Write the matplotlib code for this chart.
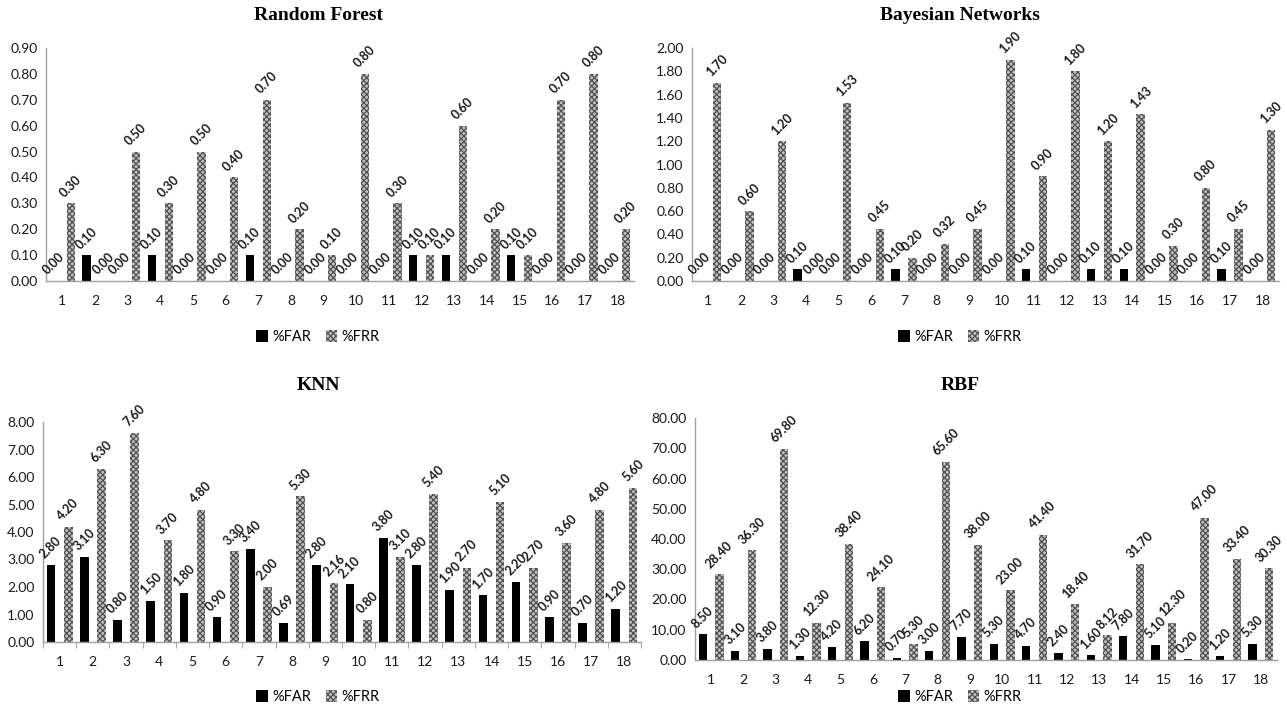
import matplotlib
matplotlib.use("Agg")
import matplotlib.pyplot as plt
import numpy as np

plt.rcParams['font.family'] = ['Lato', 'DejaVu Sans']
plt.rcParams['hatch.linewidth'] = 0.9

categories = [str(i) for i in range(1, 19)]

rf_far = [0.00, 0.10, 0.00, 0.10, 0.00, 0.00, 0.10, 0.00, 0.00, 0.00, 0.00, 0.10, 0.10, 0.00, 0.10, 0.00, 0.00, 0.00]
rf_frr = [0.30, 0.00, 0.50, 0.30, 0.50, 0.40, 0.70, 0.20, 0.10, 0.80, 0.30, 0.10, 0.60, 0.20, 0.10, 0.70, 0.80, 0.20]

bn_far = [0.00, 0.00, 0.00, 0.10, 0.00, 0.00, 0.10, 0.00, 0.00, 0.00, 0.10, 0.00, 0.10, 0.10, 0.00, 0.00, 0.10, 0.00]
bn_frr = [1.70, 0.60, 1.20, 0.00, 1.53, 0.45, 0.20, 0.32, 0.45, 1.90, 0.90, 1.80, 1.20, 1.43, 0.30, 0.80, 0.45, 1.30]

knn_far = [2.80, 3.10, 0.80, 1.50, 1.80, 0.90, 3.40, 0.69, 2.80, 2.10, 3.80, 2.80, 1.90, 1.70, 2.20, 0.90, 0.70, 1.20]
knn_frr = [4.20, 6.30, 7.60, 3.70, 4.80, 3.30, 2.00, 5.30, 2.16, 0.80, 3.10, 5.40, 2.70, 5.10, 2.70, 3.60, 4.80, 5.60]

rbf_far = [8.50, 3.10, 3.80, 1.30, 4.20, 6.20, 0.70, 3.00, 7.70, 5.30, 4.70, 2.40, 1.60, 7.80, 5.10, 0.20, 1.20, 5.30]
rbf_frr = [28.40, 36.30, 69.80, 12.30, 38.40, 24.10, 5.30, 65.60, 38.00, 23.00, 41.40, 18.40, 8.12, 31.70, 12.30, 47.00, 33.40, 30.30]

W, H = 1287, 710
fig = plt.figure(figsize=(W / 100, H / 100), dpi=100)


def px_axes(left, right, top, bottom):
    return fig.add_axes([left / W, (H - bottom) / H, (right - left) / W, (bottom - top) / H])


panels = [
    dict(title="Random Forest", far=rf_far, frr=rf_frr, ymax=0.9, step=0.1,
         box=(46, 634, 48, 281), title_y=15, legend_y=337, cx=318, ticks=False),
    dict(title="Bayesian Networks", far=bn_far, frr=bn_frr, ymax=2.0, step=0.2,
         box=(692, 1279, 48, 281), title_y=15, legend_y=337, cx=960, ticks=False),
    dict(title="KNN", far=knn_far, frr=knn_frr, ymax=8.0, step=1.0,
         box=(43, 641, 422, 642), title_y=385, legend_y=697, cx=318, ticks=True),
    dict(title="RBF", far=rbf_far, frr=rbf_frr, ymax=80.0, step=10.0,
         box=(695, 1277, 418, 660), title_y=385, legend_y=697, cx=960, ticks=False),
]

label_color = '#1a1a1a'
for p in panels:
    ax = px_axes(*p['box'])
    x = np.arange(len(categories))
    w = 0.26
    b1 = ax.bar(x - 0.26, p['far'], width=w, color='black', label='%FAR', zorder=2)
    b2 = ax.bar(x + 0.26, p['frr'], width=w, facecolor='#c4c4c4', edgecolor='#505050',
                hatch='xxxxxx', linewidth=0, label='%FRR', zorder=2)
    for bars, vals in ((b1, p['far']), (b2, p['frr'])):
        for rect, v in zip(bars, vals):
            ax.annotate(f"{v:.2f}", (rect.get_x() + rect.get_width() / 2, v),
                        xytext=(0, 3), textcoords='offset points',
                        ha='center', va='bottom', rotation=45, fontsize=9,
                        color=label_color, fontweight='bold')
    ax.set_xlim(-0.5, len(categories) - 0.5)
    ax.set_ylim(0, p['ymax'])
    yt = np.arange(0, p['ymax'] + p['step'] / 2, p['step'])
    ax.set_yticks(yt)
    ax.set_yticklabels([f"{v:.2f}" for v in yt], fontsize=10, color=label_color)
    ax.set_xticks(x)
    ax.set_xticklabels(categories, fontsize=10, color=label_color)
    ax.tick_params(axis='y', length=0, pad=6)
    ax.tick_params(axis='x', length=0, pad=10)
    if p['ticks']:
        ax.set_xticks(np.arange(-0.5, len(categories), 1.0), minor=True)
        ax.tick_params(axis='x', which='minor', length=4, color='#999999', direction='out')
    for s in ('top', 'right'):
        ax.spines[s].set_visible(False)
    for s in ('left', 'bottom'):
        ax.spines[s].set_color('#a0a0a0')
        ax.spines[s].set_linewidth(1.0)
    fig.text(p['cx'] / W, 1 - p['title_y'] / H, p['title'], ha='center', va='center',
             fontsize=14, fontweight='bold', family='Liberation Serif')
    fig.legend(handles=[b1, b2], loc='center', bbox_to_anchor=(p['cx'] / W, 1 - p['legend_y'] / H),
               ncol=2, frameon=False, fontsize=10.5, handlelength=0.8, handleheight=0.8,
               handletextpad=0.3, columnspacing=1.0)

fig.savefig("out.png", dpi=100)
